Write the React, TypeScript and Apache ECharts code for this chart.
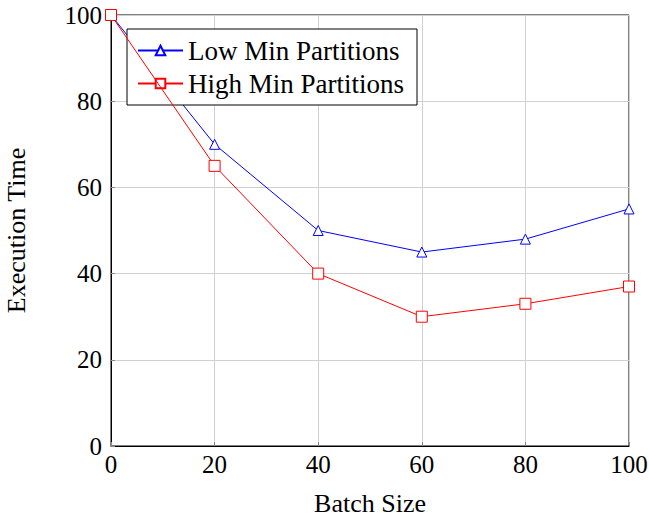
import React, { useEffect, useRef } from "react";
import * as echarts from "echarts";

const batchSizes = [0, 20, 40, 60, 80, 100];
const lowMinPartitions = [100, 70, 50, 45, 48, 55];
const highMinPartitions = [100, 65, 40, 30, 33, 37];
const seriesNames = ["Low Min Partitions", "High Min Partitions"];

const FONT = "'Liberation Serif', 'DejaVu Serif', serif";

export default function App() {
  const ref = useRef<HTMLDivElement>(null);
  useEffect(() => {
    if (!ref.current) return;
    const chart = echarts.init(ref.current, undefined, { renderer: "svg" });
    const toPairs = (ys: number[]) => batchSizes.map((x, i) => [x, ys[i]]);
    chart.setOption({
      animation: false,
      backgroundColor: "#fff",
      textStyle: { fontFamily: FONT },
      grid: {
        left: 111,
        right: 20,
        top: 15,
        bottom: 73,
        show: true,
        borderColor: "#000",
        borderWidth: 1,
        containLabel: false,
        outerBoundsMode: "none",
      },
      legend: {
        left: 127,
        top: 29,
        orient: "vertical",
        backgroundColor: "#fff",
        borderColor: "#000",
        borderWidth: 1,
        padding: [8, 13, 8, 10],
        itemWidth: 45,
        itemHeight: 12,
        itemGap: 6,
        textStyle: { fontFamily: FONT, fontSize: 27, color: "#000" },
        data: seriesNames,
      },
      xAxis: {
        type: "value",
        min: 0,
        max: 100,
        interval: 20,
        name: "Batch Size",
        nameLocation: "middle",
        nameGap: 44,
        nameTextStyle: { fontFamily: FONT, fontSize: 26, color: "#000" },
        axisLine: { show: true, lineStyle: { color: "#000", width: 1 } },
        axisTick: { show: true, inside: true, length: 4, lineStyle: { color: "#888" } },
        axisLabel: { fontFamily: FONT, fontSize: 25, color: "#000", margin: 6 },
        splitLine: { show: true, lineStyle: { color: "#d0d0d0", width: 1 } },
      },
      yAxis: {
        type: "value",
        min: 0,
        max: 100,
        interval: 20,
        name: "Execution Time",
        nameLocation: "middle",
        nameGap: 82,
        nameRotate: 90,
        nameTextStyle: { fontFamily: FONT, fontSize: 26, color: "#000" },
        axisLine: { show: true, lineStyle: { color: "#000", width: 1 } },
        axisTick: { show: true, inside: true, length: 4, lineStyle: { color: "#888" } },
        axisLabel: { fontFamily: FONT, fontSize: 25, color: "#000", margin: 9 },
        splitLine: { show: true, lineStyle: { color: "#d0d0d0", width: 1 } },
      },
      series: [
        {
          name: seriesNames[0],
          type: "line",
          data: toPairs(lowMinPartitions),
          symbol: "triangle",
          symbolSize: 10,
          showAllSymbol: true,
          lineStyle: { color: "#0000ff", width: 1 },
          itemStyle: { color: "#fff", borderColor: "#0000ff", borderWidth: 1 },
          z: 3,
        },
        {
          name: seriesNames[1],
          type: "line",
          data: toPairs(highMinPartitions),
          symbol: "rect",
          symbolSize: 11,
          showAllSymbol: true,
          lineStyle: { color: "#ff0000", width: 1 },
          itemStyle: { color: "#fff", borderColor: "#ff0000", borderWidth: 1 },
          z: 4,
        },
      ],
    });
    return () => chart.dispose();
  }, []);
  return <div ref={ref} style={{ width: 649, height: 519, position: "absolute", left: 0, top: 0 }} />;
}
